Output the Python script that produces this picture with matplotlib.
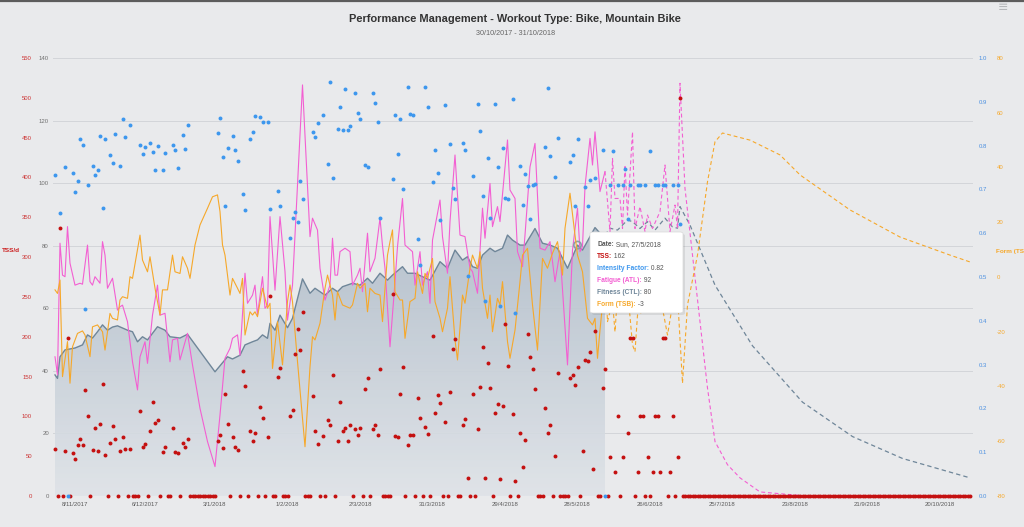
import datetime as dt
import numpy as np
import matplotlib
matplotlib.use("Agg")
import matplotlib.pyplot as plt
from matplotlib.colors import LinearSegmentedColormap
from matplotlib.patches import FancyBboxPatch
from matplotlib.lines import Line2D
from matplotlib.text import Annotation

plt.rcParams["font.family"] = ["Liberation Sans", "DejaVu Sans"]

### data (x = days since 30/10/2017)
START = dt.date(2017, 10, 30)
title = "Performance Management - Workout Type: Bike, Mountain Bike"
subtitle = "30/10/2017 - 31/10/2018"
tick_days = [9, 37, 65, 94, 123, 152, 181, 210, 239, 268, 297, 326, 355]

tss_days = [1, 3, 5, 6, 8, 9, 10, 11, 12, 13, 14, 16, 17, 18, 19, 20, 21, 23, 24, 25,
            27, 28, 29, 31, 35, 36, 37, 39, 40, 41, 42, 44, 45, 48, 49, 50, 52, 53, 54, 66,
            67, 68, 69, 70, 72, 73, 74, 76, 77, 79, 80, 81, 83, 84, 86, 87, 90, 91, 95, 96,
            97, 98, 99, 100, 104, 105, 106, 108, 110, 111, 112, 114, 115, 116, 117, 118, 119, 121, 122, 123,
            125, 126, 128, 129, 130, 131, 136, 137, 138, 139, 140, 142, 143, 144, 146, 147, 149, 150, 152, 153,
            154, 155, 157, 159, 160, 161, 164, 165, 166, 168, 170, 171, 172, 173, 174, 175, 177, 178, 179, 180,
            181, 182, 184, 185, 187, 188, 189, 190, 191, 192, 193, 197, 198, 199, 201, 202, 207, 208, 209, 210,
            212, 213, 214, 215, 216, 217, 220, 221, 223, 225, 226, 228, 230, 231, 232, 234, 235, 236, 238, 240,
            241, 242, 243, 244, 245, 247, 248, 250, 251]
tss_vals = [59, 336, 56, 199, 54, 47, 64, 71, 64, 133, 100, 58, 85, 57, 90, 141, 52, 66, 88, 71,
            57, 74, 59, 59, 107, 61, 65, 81, 118, 92, 95, 55, 61, 85, 55, 54, 67, 62, 71, 69,
            76, 60, 128, 90, 74, 62, 58, 157, 138, 82, 69, 79, 112, 98, 74, 251, 149, 161, 100, 108,
            178, 210, 183, 231, 126, 82, 65, 75, 95, 89, 152, 69, 118, 81, 86, 69, 89, 84, 76, 86,
            134, 148, 84, 89, 77, 159, 254, 75, 74, 128, 162, 64, 76, 76, 123, 98, 87, 78, 201, 104,
            127, 117, 93, 130, 184, 197, 89, 97, 23, 128, 84, 137, 187, 23, 167, 136, 104, 116, 21, 113,
            216, 163, 103, 19, 79, 37, 70, 203, 174, 159, 134, 111, 79, 89, 50, 155, 148, 152, 139, 162,
            56, 171, 169, 181, 34, 207, 135, 160, 49, 30, 100, 49, 79, 199, 199, 30, 100, 100, 49, 30,
            100, 100, 30, 199, 199, 30, 100, 49, 500]
rest_days = ([2, 4, 7, 15, 22, 26, 30, 32, 33, 34, 38, 43, 46, 47, 51]
             + list(range(55, 66))
             + [71, 75, 78, 82, 85, 88, 89, 92, 93, 94, 101, 102, 103, 107, 109, 113, 120, 124, 127]
             + list(range(132, 136))
             + [141, 145, 148, 151, 156, 158, 162, 163, 167, 169, 176, 183, 186, 194, 195, 196, 200]
             + list(range(203, 207))
             + [211, 218, 219, 222, 227, 233, 237, 239, 246, 249]
             + list(range(252, 368)))

if_days = [1, 3, 5, 8, 9, 10, 11, 12, 13, 14, 16, 17, 18, 19, 20, 21, 23, 24, 25, 27,
           28, 29, 31, 35, 36, 37, 39, 40, 41, 42, 44, 45, 48, 49, 50, 52, 53, 54, 66, 67,
           68, 69, 70, 72, 73, 74, 76, 77, 79, 80, 81, 83, 84, 86, 87, 90, 91, 95, 96, 97,
           98, 99, 100, 104, 105, 106, 108, 110, 111, 112, 114, 115, 116, 117, 118, 119, 121, 122, 123, 125,
           126, 128, 129, 130, 131, 136, 137, 138, 139, 140, 142, 143, 144, 146, 147, 149, 150, 152, 153, 154,
           155, 157, 159, 160, 161, 164, 165, 166, 168, 170, 171, 172, 173, 174, 175, 177, 178, 179, 180, 181,
           182, 184, 185, 187, 188, 189, 190, 191, 192, 193, 197, 198, 199, 201, 202, 207, 208, 209, 210, 213,
           214, 215, 217, 220, 223, 224, 226, 228, 229, 230, 231, 234, 235, 237, 239, 241, 242, 244, 245, 248,
           250, 251, 6, 221]
if_vals = [0.734, 0.647, 0.750, 0.738, 0.695, 0.720, 0.814, 0.801, 0.427, 0.710, 0.753, 0.732, 0.744, 0.823, 0.658, 0.814, 0.779, 0.760, 0.826, 0.753,
           0.861, 0.820, 0.848, 0.801, 0.781, 0.796, 0.805, 0.786, 0.744, 0.798, 0.745, 0.782, 0.801, 0.789, 0.748, 0.824, 0.792, 0.848, 0.829, 0.863,
           0.775, 0.662, 0.794, 0.821, 0.791, 0.765, 0.689, 0.653, 0.814, 0.830, 0.867, 0.865, 0.853, 0.855, 0.655, 0.696, 0.661, 0.588, 0.634, 0.648,
           0.626, 0.719, 0.679, 0.830, 0.820, 0.851, 0.871, 0.757, 0.946, 0.725, 0.839, 0.888, 0.835, 0.929, 0.835, 0.845, 0.920, 0.874, 0.861, 0.755,
           0.750, 0.920, 0.898, 0.855, 0.635, 0.724, 0.870, 0.780, 0.860, 0.700, 0.934, 0.872, 0.870, 0.586, 0.527, 0.934, 0.887, 0.717, 0.789, 0.738,
           0.630, 0.893, 0.804, 0.704, 0.677, 0.807, 0.791, 0.502, 0.730, 0.896, 0.834, 0.686, 0.445, 0.771, 0.634, 0.894, 0.750, 0.434, 0.795, 0.680,
           0.678, 0.907, 0.417, 0.754, 0.665, 0.736, 0.708, 0.632, 0.710, 0.712, 0.797, 0.932, 0.777, 0.728, 0.817, 0.763, 0.779, 0.662, 0.815, 0.705,
           0.662, 0.721, 0.725, 0.791, 0.71, 0.788, 0.71, 0.71, 0.746, 0.632, 0.71, 0.71, 0.71, 0.71, 0.788, 0.71, 0.71, 0.71, 0.71, 0.71,
           0.71, 0.62, 0.0, 0.0]

ctl_days = [1, 2, 3, 5, 9, 12, 14, 16, 18, 20, 22, 24, 26, 30, 32, 34, 36, 38, 42, 45,
            47, 51, 54, 65, 70, 72, 75, 77, 80, 82, 84, 86, 87, 89, 91, 94, 96, 100, 103, 105,
            107, 109, 112, 114, 116, 120, 123, 126, 128, 131, 134, 136, 140, 142, 145, 148, 151, 155, 158, 161,
            164, 166, 168, 170, 172, 175, 177, 180, 182, 184, 187, 189, 193, 196, 199, 202, 206, 210, 212, 215,
            217, 219, 221]
ctl_vals = [38.7, 37.6, 44.5, 46.7, 47.3, 48.3, 51.5, 50.5, 52.5, 54.7, 53, 54, 54.4, 53, 52.5, 49.3, 50.9, 49.9, 54.1, 53,
            50.9, 50.5, 51.7, 39.7, 44.5, 43.8, 45, 48.3, 49.3, 49.9, 51.5, 50.4, 55.2, 53, 57.8, 53.8, 56.8, 69.4, 64.8, 66.4,
            65.3, 64.2, 66.4, 65.3, 66.9, 68, 67.4, 69.6, 68, 71.2, 69, 70.6, 73.3, 71.2, 71.2, 70.1, 69, 74.9, 72.8, 78.6,
            75.4, 76.5, 73.3, 72.8, 77, 79.2, 78.1, 79.2, 83.4, 81.8, 80.2, 80.2, 85.5, 80.8, 80.2, 79.2, 72.8, 80.2, 78.6, 82.9,
            85.8, 84, 83.4]
ctl_plan_days = [221, 223, 226, 230, 232, 235, 238, 241, 245, 248, 250, 251, 255, 265, 280, 300, 320, 340, 367]
ctl_plan_vals = [83.4, 85.6, 85, 88.2, 87.7, 85.5, 87.7, 85, 88.8, 86, 85.6, 92.5, 86.6, 67.4, 48, 30, 19, 12, 5.8]

atl_days = [1, 2, 3, 4, 5, 6, 7, 9, 11, 12, 14, 15, 16, 17, 19, 20, 21, 22, 24, 26,
            27, 28, 30, 32, 34, 35, 37, 38, 40, 42, 43, 45, 47, 48, 50, 51, 54, 56, 59, 62,
            65, 67, 69, 71, 72, 74, 75, 77, 78, 80, 81, 82, 84, 85, 86, 87, 89, 91, 93, 94,
            96, 100, 103, 104, 106, 107, 109, 111, 112, 113, 114, 115, 117, 119, 120, 122, 123, 124, 126, 127,
            129, 131, 132, 133, 135, 137, 138, 140, 141, 144, 145, 147, 148, 150, 151, 152, 155, 156, 158, 159,
            161, 163, 165, 167, 168, 170, 172, 173, 175, 176, 178, 179, 182, 183, 185, 186, 188, 189, 191, 193,
            195, 197, 199, 201, 203, 206, 208, 210, 211, 212, 213, 215, 216, 217, 219, 220, 221]
atl_vals = [44.5, 38.7, 80.8, 70.6, 70.1, 86.1, 74.4, 67.4, 68, 67.7, 80.2, 68.5, 67.4, 70.1, 68, 81.3, 77, 66.4, 69.6, 59.4,
            60.5, 61, 55.7, 42.9, 33.9, 44.5, 49.3, 42.4, 57.8, 67.4, 57.8, 58.4, 42.9, 49.9, 50.4, 43.5, 52, 41.9, 28, 17.4,
            9.4, 25.9, 44, 47.2, 50.4, 51.5, 45, 71.2, 61.6, 64.2, 67.4, 57.8, 70.1, 60, 61, 89.3, 65.8, 89.3, 71.7, 56.2,
            67.4, 131.4, 82.9, 88.8, 85, 72.8, 62.6, 67.4, 82.4, 70.6, 70.6, 78.1, 79.2, 78.1, 67.4, 70.6, 72.8, 65.3, 84, 71.7,
            76, 88.8, 80, 72.8, 47.7, 68.5, 79.7, 95.1, 80.2, 78.1, 67.4, 78.1, 67.4, 71.7, 61.6, 81.8, 94.6, 82.9, 71.2, 87.7,
            109, 83.4, 82.9, 72.8, 71.7, 64.8, 92, 82.4, 99.9, 86.1, 92.5, 87.7, 113.8, 97.8, 95.1, 78.1, 73.3, 83.4, 105.2, 112.7,
            79.2, 78.6, 81.3, 68.5, 78.1, 41.9, 78.6, 92, 78.1, 79.7, 98.9, 114.3, 105.8, 116.4, 97.3, 100.5, 103.7]
atl_plan_days = [221, 223, 224, 225, 227, 228, 229, 230, 232, 233, 235, 237, 238, 240, 243, 245, 247, 249, 250, 251,
                 253, 256, 259, 262, 265, 270, 275, 283, 300, 367]
atl_plan_vals = [103.7, 84.5, 107.9, 95.1, 95.1, 85.5, 105.8, 89.8, 116.4, 85.5, 92.5, 84.5, 89.8, 85.5, 90.9, 105.8, 84.5, 93, 85.5, 131.9,
                 98.3, 77, 55.7, 34.5, 17.4, 10, 5.8, 1.3, 0.1, 0]

tsb_days = [1, 2, 3, 4, 6, 7, 8, 10, 12, 13, 15, 16, 18, 20, 21, 23, 24, 26, 27, 28,
            30, 31, 32, 35, 36, 38, 39, 41, 43, 44, 46, 48, 49, 51, 52, 54, 55, 57, 59, 62,
            64, 66, 67, 68, 69, 71, 72, 74, 75, 76, 77, 79, 80, 81, 82, 84, 86, 87, 88, 90,
            92, 94, 95, 96, 98, 101, 103, 104, 105, 107, 109, 110, 112, 113, 114, 116, 119, 120, 122, 123,
            125, 126, 127, 129, 131, 132, 134, 135, 136, 137, 139, 140, 141, 143, 145, 146, 148, 149, 150, 152,
            153, 155, 156, 158, 159, 160, 161, 162, 164, 165, 167, 168, 170, 171, 172, 174, 175, 176, 178, 179,
            180, 182, 183, 185, 187, 188, 190, 192, 194, 196, 198, 200, 202, 204, 205, 207, 209, 210, 212, 214,
            216, 217, 218, 219, 220, 221]
tsb_vals = [-4.7, -6, -1.1, -36.4, -23.6, -38.8, -25.5, -20.6, -19.7, -21.2, -29.1, -18.2, -17.5, -20, -26.7, -13.3, -15.1, -15.7, -8.4, -7.2,
            -7.8, 0.1, -0.5, 15.3, 6.2, 1.9, 7.4, -4.1, -13.9, -4.7, -4.7, 8, 1.9, 1.3, 7.4, 3.2, -0.5, 11.7, 19, 25.1,
            29.3, 30, 23.9, 11.7, 8, -6.6, -0.5, -4.1, -6, -0.5, -21.2, -12.7, -13.9, -12.7, -14.5, -4.1, -11.4, -9.6, -33.4, -16.3,
            -32.1, -9, -2.9, -9, -30.9, -62, -32.8, -21.8, -23, -16.9, -4.1, 0.7, -6.6, -15.7, -5.4, -10.2, -11.4, -10.2, -2.3, -4.1,
            -2.3, -12.7, -4.1, -6, -6.6, -16.3, 8, 12.9, 17.2, -5.4, -8.4, -8.4, -22.4, -9, -7.8, 1.9, -6, 1.3, -0.5, 6.8,
            -9, -15.1, -20, -11.4, 0.1, -11.4, -23, -30.3, -6.6, -9.6, 3.2, 8, 3.2, 9.2, -4.1, -15.1, -6.6, -20, -7.8, -10.2,
            -1.7, -23.6, -29.7, -19.4, -1.7, 8, 10.5, -10.2, -26.7, 6.8, 3.2, 8.7, 12.9, 0.7, 17.8, 30.6, 15.3, 8, 1.9, -15.1,
            -17.5, -15.1, -29.7, -19.4, -10, 3.2]
tsb_plan_days = [221, 222, 224, 225, 226, 228, 230, 232, 233, 234, 236, 238, 240, 243, 246, 248, 250, 252, 254, 258,
                 262, 265, 268, 279, 291, 299, 319, 339, 359, 367]
tsb_plan_vals = [3.2, -16.3, -9, -20, -6.6, -11.4, -4.1, -24.8, -27.3, -13.9, -12.7, -6.6, -12.7, -6.6, -21.2, -10.2, -6.6, -38.8, -10.2, 8,
                 34.8, 49.4, 52.6, 50, 44.6, 37.3, 24.5, 14.6, 8, 5.5]

hover_day = 210
tooltip = [("Date:", " Sun, 27/5/2018"), ("TSS:", " 162"), ("Intensity Factor:", " 0.82"),
           ("Fatigue (ATL):", " 92"), ("Fitness (CTL):", " 80"), ("Form (TSB):", " -3")]

### style
W, H = 1024, 527
BG = "#e9eaec"
RED = "#c41010"
BLUE = "#3d97ee"
PINK = "#f35fd2"
ORANGE = "#f6a82a"
SLATE = "#6f8699"
GREY_TXT = "#707070"
DASH = (0, (3.5, 2.5))


def fx(px):
    return px / W


def fy(py):
    return 1 - py / H


def style_yaxis(axis, side, pad, color, ticks, fmt):
    axis.set_yticks(ticks)
    axis.set_yticklabels([fmt(t) for t in ticks])
    axis.yaxis.set_ticks_position(side)
    axis.tick_params(axis="y", length=0, pad=pad, labelsize=4.3, labelcolor=color)
    for sp in axis.spines.values():
        sp.set_visible(False)


def main():
    fig = plt.figure(figsize=(W / 100, H / 100), dpi=100, facecolor=BG)
    ax = fig.add_axes([fx(53), fy(496), fx(920), 438 / H])
    ax.set_facecolor(BG)
    ax_tsb = ax.twinx()
    ax_tss = ax.twinx()
    ax_if = ax.twinx()

    # CTL area with gradient
    poly = ax.fill_between(ctl_days, ctl_vals, 0, facecolor="none", edgecolor="none")
    cmap = LinearSegmentedColormap.from_list("ctl", ["#dfe3e8", "#aebbc8"])
    grad = np.linspace(1, 0, 256).reshape(-1, 1)
    im = ax.imshow(grad, extent=[min(ctl_days), max(ctl_days), 0, 90], aspect="auto",
                   cmap=cmap, origin="upper", zorder=1, alpha=0.9)
    im.set_clip_path(poly.get_paths()[0], transform=ax.transData)

    ax.plot(ctl_days, ctl_vals, color=SLATE, lw=1.0, zorder=3)
    ax.plot(ctl_plan_days, ctl_plan_vals, color=SLATE, lw=0.9, ls=DASH, zorder=3)
    ax.plot(atl_days, atl_vals, color=PINK, lw=0.8, zorder=4)
    ax.plot(atl_plan_days, atl_plan_vals, color=PINK, lw=0.8, ls=DASH, zorder=4)
    hv = ctl_vals[ctl_days.index(hover_day)]
    ax.scatter([hover_day], [hv], s=28, facecolor="none", edgecolor="#8d9cab", lw=1.2, zorder=5)

    ax.set_xlim(0.2, 368.2)
    ax.set_ylim(0, 140)
    ax.grid(axis="y", color="#d3d5d9", lw=0.7, zorder=0)
    ax.set_axisbelow(True)
    for side in ["top", "right"]:
        ax.spines[side].set_visible(False)
    for side in ["left", "bottom"]:
        ax.spines[side].set_color("#c4c7cc")
        ax.spines[side].set_linewidth(0.7)
    ax.set_xticks(tick_days)
    labels = []
    for d in tick_days:
        day = START + dt.timedelta(days=d)
        labels.append(f"{day.day}/{day.month}/{day.year}")
    ax.set_xticklabels(labels)
    ax.tick_params(axis="x", length=0, pad=4.5, labelsize=4.3, labelcolor="#5a5a5a")
    style_yaxis(ax, "left", 2.9, GREY_TXT, list(range(0, 141, 20)), lambda t: f"{t}")

    # TSB
    ax_tsb.plot(tsb_days, tsb_vals, color=ORANGE, lw=0.8, zorder=3)
    ax_tsb.plot(tsb_plan_days, tsb_plan_vals, color=ORANGE, lw=0.8, ls=DASH, zorder=3)
    ax_tsb.set_ylim(-80, 80)
    style_yaxis(ax_tsb, "right", 17.3, ORANGE, list(range(-80, 81, 20)), lambda t: f"{t}")

    # TSS dots
    ax_tss.scatter(tss_days, tss_vals, s=8, color=RED, lw=0, zorder=4, clip_on=False)
    ax_tss.scatter(rest_days, [0] * len(rest_days), s=8, color=RED, lw=0, zorder=4, clip_on=False)
    ax_tss.set_ylim(0, 550)
    style_yaxis(ax_tss, "left", 15, "#cc3333", list(range(0, 551, 50)), lambda t: f"{t}")

    # IF dots
    ax_if.scatter(if_days, if_vals, s=8, color=BLUE, lw=0, zorder=5, clip_on=False)
    ax_if.set_ylim(0, 1.0)
    style_yaxis(ax_if, "right", 4.3, "#4a8fe0", [i / 10 for i in range(11)], lambda t: f"{t:.1f}")
    ax_tsb.set_xlim(0.2, 368.2)
    ax_tss.set_xlim(0.2, 368.2)
    ax_if.set_xlim(0.2, 368.2)

    # titles / axis titles
    fig.text(0.503, fy(19), title, ha="center", va="center", fontsize=7.9,
             fontweight="bold", color="#333333")
    fig.text(0.503, fy(34), subtitle, ha="center", va="center", fontsize=5.2, color="#666666")
    fig.text(fx(2), fy(251), "TSS/d", ha="left", va="center", fontsize=4.6,
             fontweight="bold", color="#cc2020")
    # axis title runs off the right edge, as in the source chart
    fig.text(fx(996), fy(251), "Form (TSB)", ha="left", va="center", fontsize=4.6,
             fontweight="bold", color=ORANGE)
    fig.text(fx(1003), fy(8), "\u2261", ha="center", va="center", fontsize=9,
             color="#b5b7ba", family="DejaVu Sans")
    fig.add_artist(Line2D([0, 1], [fy(0.8), fy(0.8)], transform=fig.transFigure,
                          color="#5c5c5c", lw=1.6))

    # tooltip
    shadow = FancyBboxPatch((fx(592), fy(315)), fx(93), 81 / H,
                            boxstyle="round,pad=0,rounding_size=0.003",
                            transform=fig.transFigure, fc="#000000", ec="none",
                            alpha=0.08, zorder=10)
    box = FancyBboxPatch((fx(590), fy(313)), fx(93), 81 / H,
                         boxstyle="round,pad=0,rounding_size=0.003",
                         transform=fig.transFigure, fc="white", ec="#d8d8d8",
                         lw=0.5, zorder=11)
    fig.add_artist(shadow)
    fig.add_artist(box)
    tip_colors = ["#555555", RED, BLUE, PINK, SLATE, ORANGE]
    for i, (lab, val) in enumerate(tooltip):
        y = 245 + i * 12
        t = fig.text(fx(597), fy(y), lab, ha="left", va="center", fontsize=4.8,
                     fontweight="bold", color=tip_colors[i], zorder=12)
        ann = Annotation(val, xy=(1, 0.5), xycoords=t, ha="left", va="center",
                         fontsize=4.8, color="#555555", zorder=12)
        fig.add_artist(ann)

    fig.savefig("out.png", dpi=100, facecolor=BG)


if __name__ == "__main__":
    main()
